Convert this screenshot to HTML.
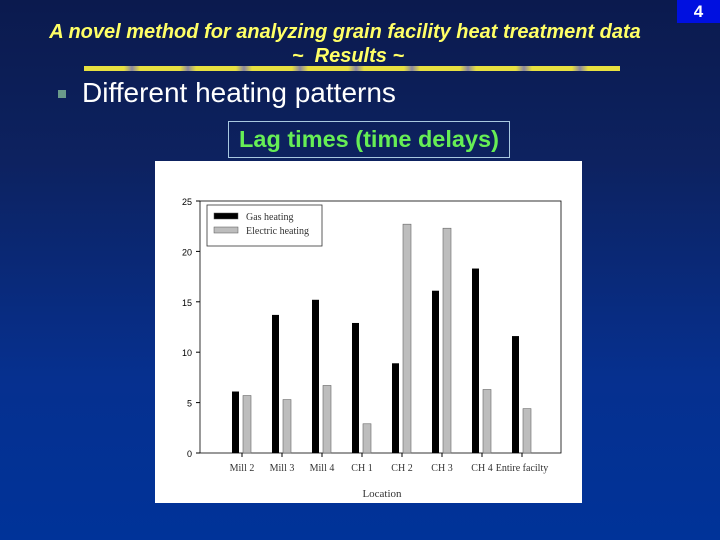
<!DOCTYPE html>
<html><head><meta charset="utf-8"><style>
html,body{margin:0;padding:0}
body{width:720px;height:540px;overflow:hidden;position:relative;font-family:"Liberation Sans",sans-serif;
background:linear-gradient(to bottom,#0b1a4e 0%,#0d2260 30%,#06308f 70%,#003399 100%)}
.t{position:absolute;color:#ffff66;font-style:italic;font-weight:bold;font-size:20px;text-align:center;width:720px;left:-15px;white-space:nowrap}
</style></head><body>
<div style="position:absolute;left:677px;top:0;width:43px;height:23px;background:#0010e0;color:#fff;font-weight:bold;font-size:17px;text-align:center;line-height:23px">4</div>
<div class="t" style="top:21px">A novel method for analyzing grain facility heat treatment data</div>
<div class="t" style="top:45px;left:-12px">~ &nbsp;Results ~</div>
<div style="position:absolute;left:84px;top:66px;width:536px;height:5px;background:repeating-linear-gradient(90deg,#e8e040 0,#e8e040 40px,#8a86a0 48px,#e8e040 56px);"></div>
<div style="position:absolute;left:58px;top:90px;width:8px;height:8px;background:#6a9a8a"></div>
<div style="position:absolute;left:82px;top:77px;color:#fff;font-size:28px">Different heating patterns</div>
<div style="position:absolute;left:228px;top:121px;width:280px;height:35px;border:1px solid #a8c8e0;color:#66ee55;font-weight:bold;font-size:23.5px;text-align:center;line-height:34px;white-space:nowrap">Lag times (time delays)</div>
<svg style="position:absolute;left:155px;top:161px" width="427" height="342">
<rect x="0" y="0" width="427" height="342" fill="#fff"/>
<g id="g" font-family="Liberation Serif,serif" font-size="10"></g>
</svg>
<script>
const categories=["Mill  2","Mill 3","Mill 4","CH 1","CH 2","CH 3","CH 4","Entire facilty"];
const gasValues=[6.1,13.7,15.2,12.9,8.9,16.1,18.3,11.6];
const elecValues=[5.7,5.3,6.7,2.9,22.7,22.3,6.3,4.4];
const yTicks=[0,5,10,15,20,25];
const NS="http://www.w3.org/2000/svg";
const g=document.getElementById('g');
const x0=45,x1=406,yb=292,yt=40;
const y=v=>yb-(v/25)*(yb-yt);
const cx=i=>87+i*40;
function el(t,a){const e=document.createElementNS(NS,t);for(const k in a)e.setAttribute(k,a[k]);g.appendChild(e);return e;}
let r=el('rect',{x:x0,y:yt,width:x1-x0,height:yb-yt,fill:'none',stroke:'#000','stroke-width':0.8});


yTicks.forEach(v=>{
 let l=el('line',{x1:x0-4,x2:x0,y1:y(v),y2:y(v),stroke:'#000'});
 
 
 let t=el('text',{x:x0-8,y:y(v)+4,'text-anchor':'end','font-family':'Liberation Sans,sans-serif','font-size':9});
 t.textContent=v;
 
 
});
categories.forEach((c,i)=>{
 let l=el('line',{x1:cx(i),x2:cx(i),y1:yb,y2:yb+4,stroke:'#000'});
 
 
 let t=el('text',{x:cx(i),y:yb+18,'text-anchor':'middle',fill:'#333'});
 t.textContent=c;
 
 
 let b=el('rect',{x:cx(i)-10,y:y(gasValues[i]),width:7,height:yb-y(gasValues[i]),fill:'#000'});
 
 
 let b2=el('rect',{x:cx(i)+1,y:y(elecValues[i]),width:8,height:yb-y(elecValues[i]),fill:'#bdbdbd',stroke:'#666','stroke-width':0.6});
 
 
});
let xt=el('text',{x:227,y:336,'text-anchor':'middle','font-size':11,fill:'#333'});
xt.textContent='Location';


let lg=el('rect',{x:52,y:44,width:115,height:41,fill:'#fff',stroke:'#333','stroke-width':0.8});


[['Gas heating','#000'],['Electric heating','#bdbdbd']].forEach((d,k)=>{
 let s=el('rect',{x:59,y:52+k*14,width:24,height:6,fill:d[1],stroke:'#555','stroke-width':0.5});
 
 
 let t=el('text',{x:91,y:59+k*14,fill:'#333'});
 t.textContent=d[0];
 
 
});
</script>
</body></html>
